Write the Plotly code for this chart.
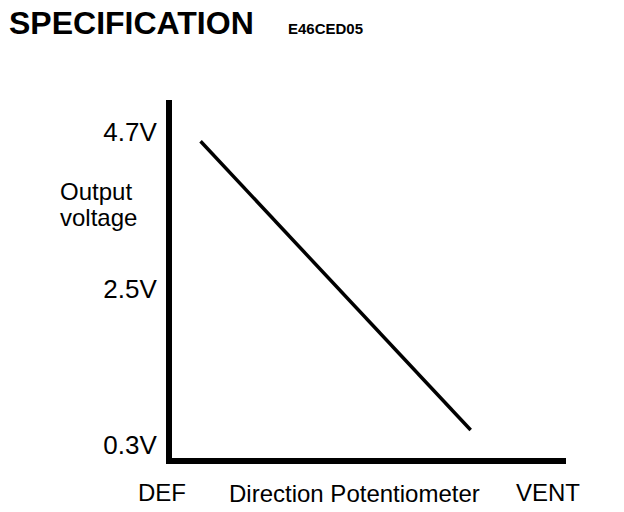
import plotly.graph_objects as go

# ---- data ----
voltage_ticks = [0.3, 2.5, 4.7]
voltage_labels = ["0.3V", "2.5V", "4.7V"]
position = [0.1, 0.8]          # 0 = DEF, 1 = VENT
output_v = [4.57, 0.51]
x_cat_pos = [0, 1]
x_cat_labels = ["DEF", "VENT"]
x_title = "Direction Potentiometer"
y_title_lines = ["Output", "voltage"]
title_text = "SPECIFICATION"
code_text = "E46CED05"

# ---- layout geometry ----
W, H = 624, 512
L, R, T, B = 172, 58, 100, 54
PW, PH = W - L - R, H - T - B
XR = [0.026, 1.047]
YR = [0.117, 5.15]
FONT = "Liberation Sans, Arial, Helvetica, sans-serif"


def px_x(px):
    return (px - L) / PW


def px_y(py):
    return (H - B - py) / PH


def data_x_to_paper(xv):
    return (xv - XR[0]) / (XR[1] - XR[0])


fig = go.Figure()
fig.add_trace(go.Scatter(
    x=position, y=output_v, mode="lines",
    line=dict(color="black", width=3.5), hoverinfo="skip", showlegend=False,
))

annotations = []
annotations.append(dict(text=f"<b>{title_text}</b>", xref="paper", yref="paper",
                        x=px_x(7), y=px_y(23), xanchor="left", yanchor="middle",
                        showarrow=False, font=dict(family=FONT, size=32, color="black")))
annotations.append(dict(text=f"<b>{code_text}</b>", xref="paper", yref="paper",
                        x=px_x(286), y=px_y(28), xanchor="left", yanchor="middle",
                        showarrow=False, font=dict(family=FONT, size=15, color="black")))
for i, line in enumerate(y_title_lines):
    annotations.append(dict(text=line, xref="paper", yref="paper",
                            x=px_x(58), y=px_y(191 + i * 26), xanchor="left", yanchor="middle",
                            showarrow=False, font=dict(family=FONT, size=24, color="black")))
for xv, lab in zip(x_cat_pos, x_cat_labels):
    annotations.append(dict(text=lab, xref="paper", yref="paper", x=data_x_to_paper(xv),
                            y=px_y(492), xanchor="center", yanchor="middle", showarrow=False,
                            font=dict(family=FONT, size=24, color="black")))
annotations.append(dict(text=x_title, xref="paper", yref="paper", x=data_x_to_paper(0.5),
                        y=px_y(493), xanchor="center", yanchor="middle", showarrow=False,
                        font=dict(family=FONT, size=24, color="black")))

fig.update_layout(
    width=W, height=H,
    margin=dict(l=L, r=R, t=T, b=B),
    paper_bgcolor="white", plot_bgcolor="white",
    annotations=annotations,
    xaxis=dict(range=XR, showgrid=False, zeroline=False,
               showticklabels=False, ticks="", showline=True,
               linecolor="black", linewidth=6, fixedrange=True),
    yaxis=dict(range=YR, showgrid=False, zeroline=False,
               tickvals=voltage_ticks, ticktext=voltage_labels, ticks="",
               ticklabelstandoff=4,
               tickfont=dict(family=FONT, size=26, color="black"),
               showline=True, linecolor="black", linewidth=6, fixedrange=True),
    font=dict(family=FONT, color="black"),
)

fig.write_html("out.html", config={"displayModeBar": False},
               post_script="document.body.style.margin='0';document.body.style.overflow='hidden';")
